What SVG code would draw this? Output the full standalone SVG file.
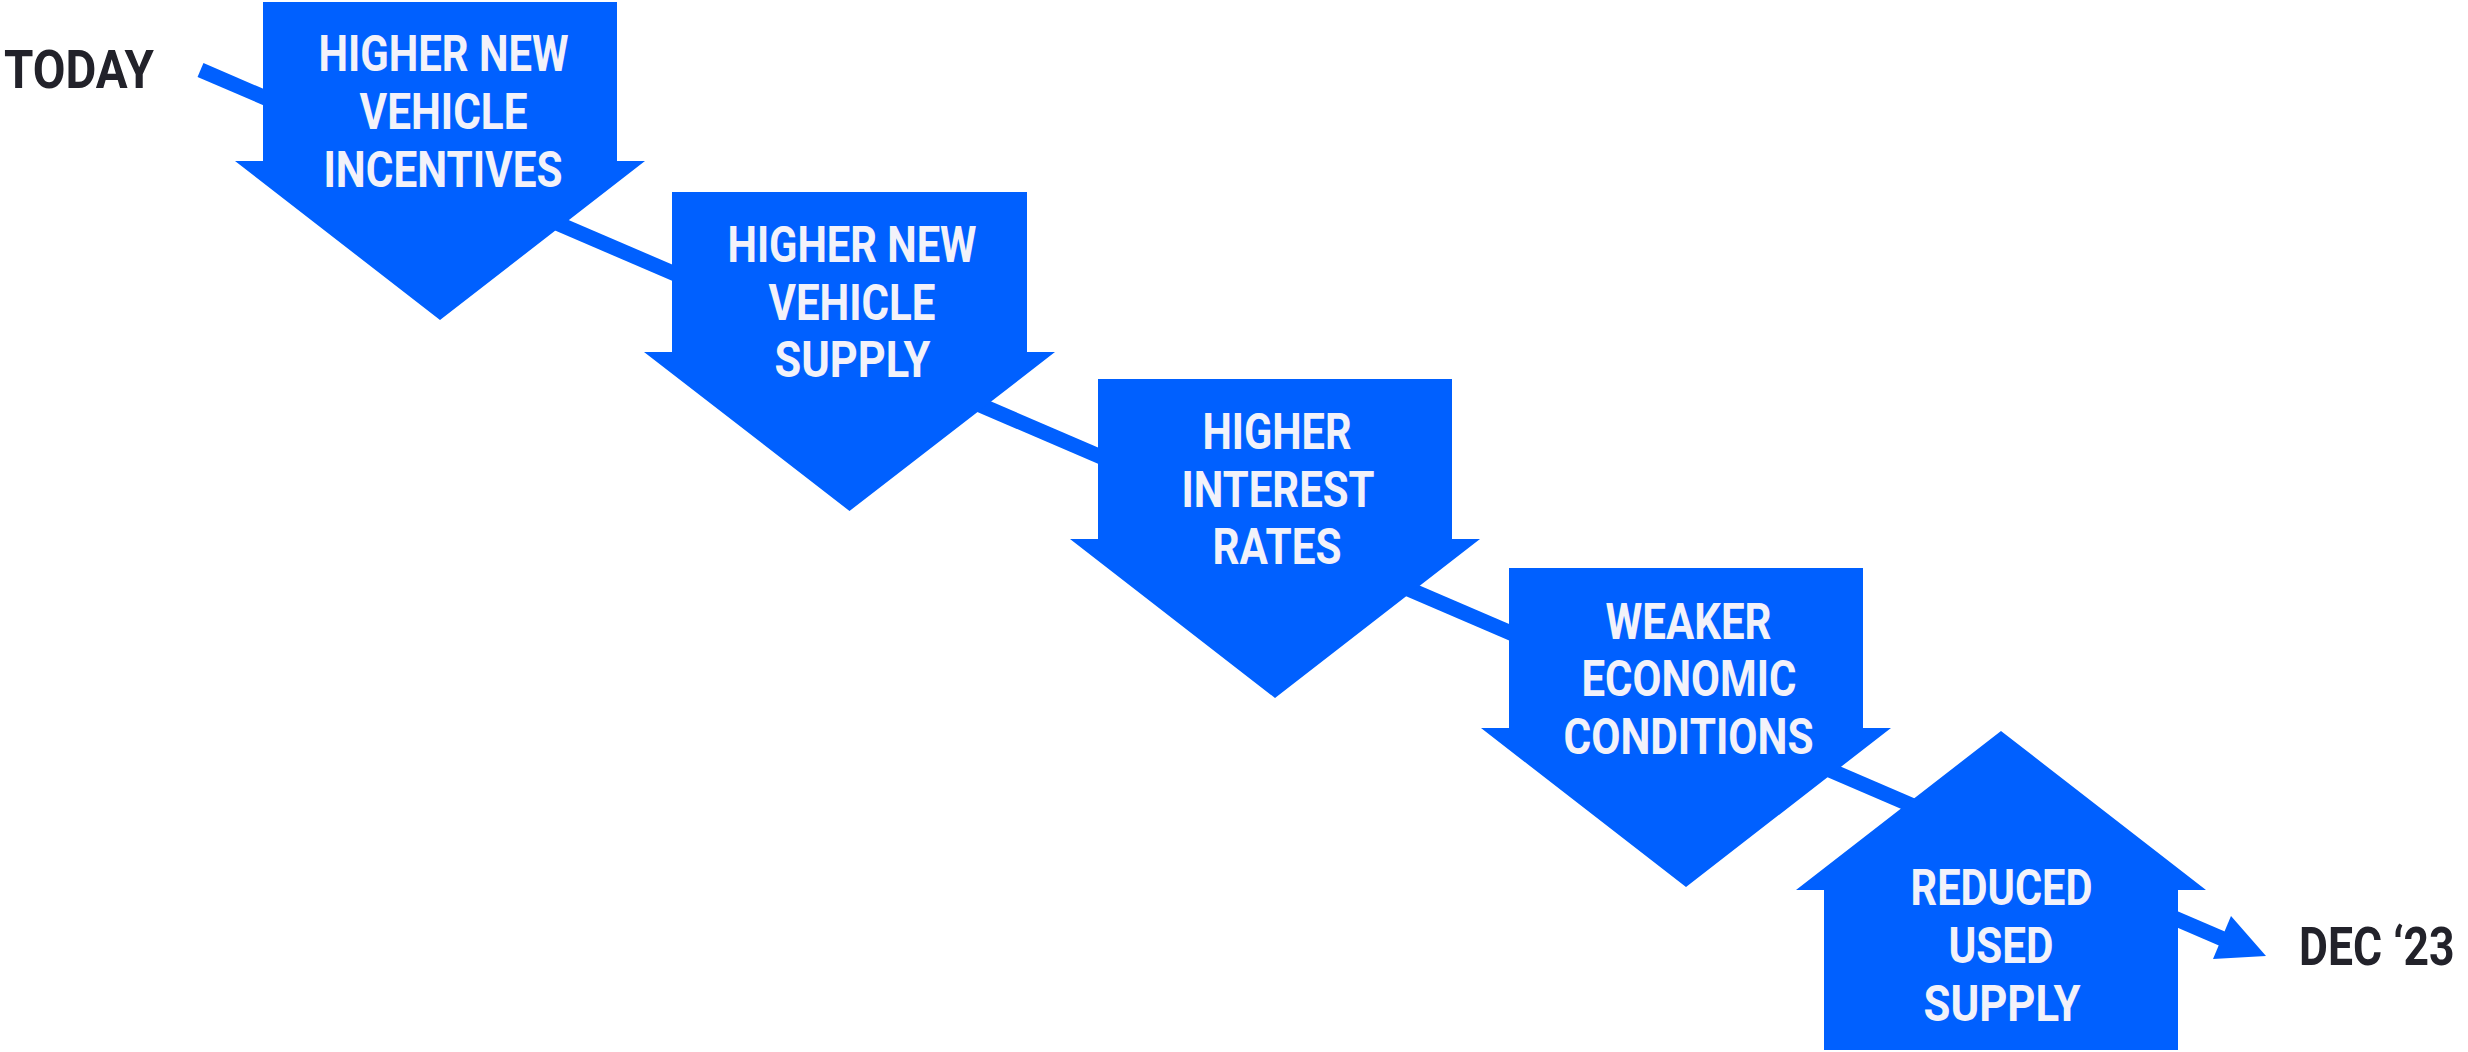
<svg xmlns="http://www.w3.org/2000/svg" width="2468" height="1052" viewBox="0 0 2468 1052">
  <style>
    .shape { fill: #0060FF; }
    .lbl { font-family: Roboto, "Liberation Sans", sans-serif; font-weight: 700; font-size: 50px; fill: #F2F2FA; text-anchor: middle; }
    .end { font-family: Roboto, "Liberation Sans", sans-serif; font-weight: 700; font-size: 53px; fill: #22222A; }
  </style>
  <rect width="2468" height="1052" fill="#FFFFFF"/>
  <g id="connectors">
    <line x1="200.5" y1="70" x2="2223" y2="939" stroke="#0060FF" stroke-width="15"/>
    <polygon class="shape" points="2231,916 2266,956 2213,959"/>
  </g>
  <g id="node-today">
    <text class="end" x="4" y="88" textLength="150" lengthAdjust="spacingAndGlyphs">TODAY</text>
  </g>
  <g id="node-incentives">
    <polygon class="shape" points="263,2 617,2 617,161 645,161 440,320 235,161 263,161"/>
    <text class="lbl" x="443.5" y="71" textLength="250" lengthAdjust="spacingAndGlyphs">HIGHER NEW</text>
    <text class="lbl" x="443.5" y="129" textLength="168" lengthAdjust="spacingAndGlyphs">VEHICLE</text>
    <text class="lbl" x="443" y="187" textLength="239" lengthAdjust="spacingAndGlyphs">INCENTIVES</text>
  </g>
  <g id="node-supply">
    <polygon class="shape" points="672,192 1027,192 1027,352 1055,352 849.5,511 644,352 672,352"/>
    <text class="lbl" x="852" y="262" textLength="249" lengthAdjust="spacingAndGlyphs">HIGHER NEW</text>
    <text class="lbl" x="852" y="320" textLength="167" lengthAdjust="spacingAndGlyphs">VEHICLE</text>
    <text class="lbl" x="852.5" y="377" textLength="156" lengthAdjust="spacingAndGlyphs">SUPPLY</text>
  </g>
  <g id="node-rates">
    <polygon class="shape" points="1098,379 1452,379 1452,539 1480,539 1275,698 1070,539 1098,539"/>
    <text class="lbl" x="1277" y="449" textLength="149" lengthAdjust="spacingAndGlyphs">HIGHER</text>
    <text class="lbl" x="1278" y="507" textLength="193" lengthAdjust="spacingAndGlyphs">INTEREST</text>
    <text class="lbl" x="1277" y="564" textLength="129" lengthAdjust="spacingAndGlyphs">RATES</text>
  </g>
  <g id="node-economic">
    <polygon class="shape" points="1509,568 1863,568 1863,728 1891,728 1686,887 1481,728 1509,728"/>
    <text class="lbl" x="1688.5" y="639" textLength="166" lengthAdjust="spacingAndGlyphs">WEAKER</text>
    <text class="lbl" x="1689" y="696" textLength="215" lengthAdjust="spacingAndGlyphs">ECONOMIC</text>
    <text class="lbl" x="1688.5" y="754" textLength="250" lengthAdjust="spacingAndGlyphs">CONDITIONS</text>
  </g>
  <g id="node-used-supply">
    <polygon class="shape" points="2001,731 2206,890 2178,890 2178,1050 1824,1050 1824,890 1796,890"/>
    <text class="lbl" x="2001.5" y="905" textLength="182" lengthAdjust="spacingAndGlyphs">REDUCED</text>
    <text class="lbl" x="2001" y="963" textLength="105" lengthAdjust="spacingAndGlyphs">USED</text>
    <text class="lbl" x="2002" y="1021" textLength="157" lengthAdjust="spacingAndGlyphs">SUPPLY</text>
  </g>
  <g id="node-dec23">
    <text class="end" transform="translate(2299,965) scale(0.84,1)" x="0" y="0">DEC ‘23</text>
  </g>
</svg>
